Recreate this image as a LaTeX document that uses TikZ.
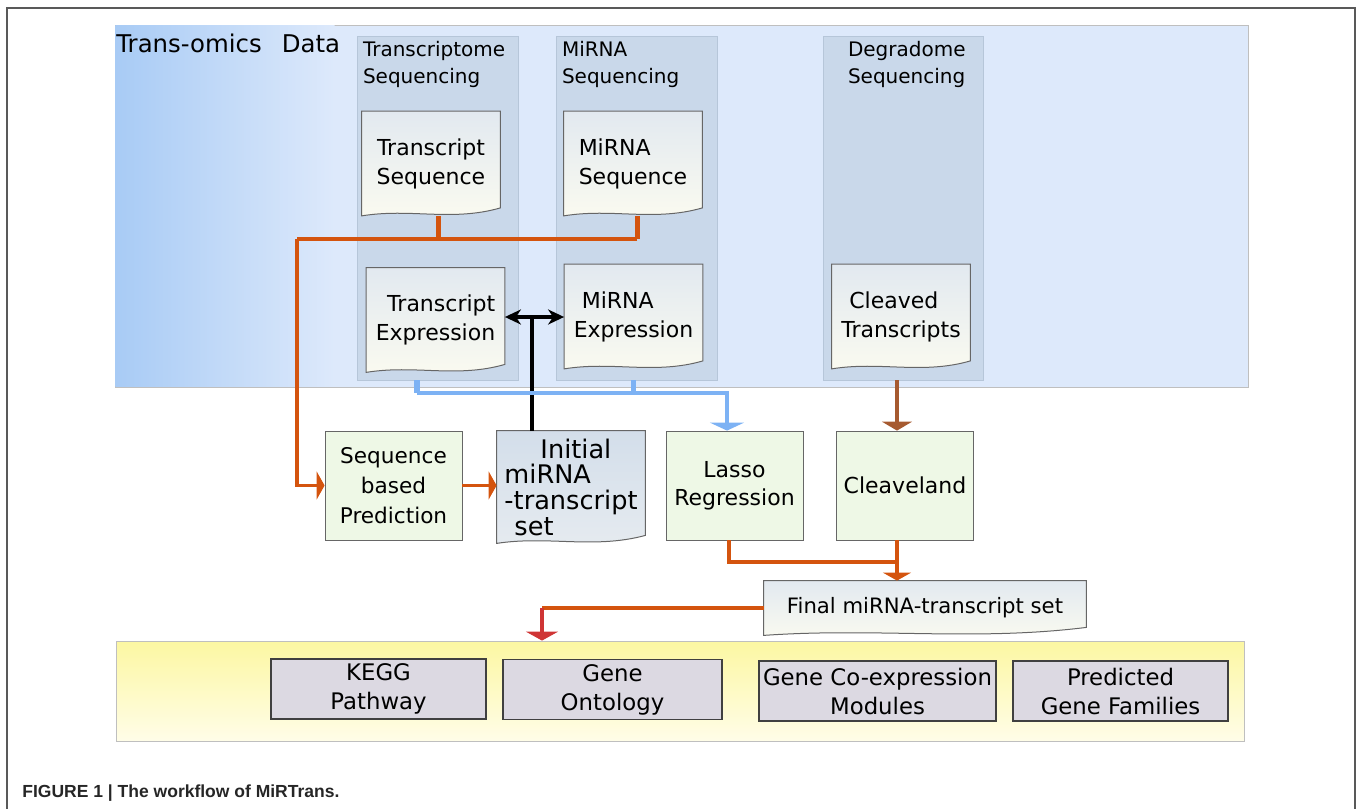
\documentclass[tikz,border=0pt]{standalone}
\usepackage{fontspec}
\setmainfont{DejaVu Sans}
\newfontfamily\capfont{Liberation Sans}
\usepackage{xcolor}
\usepackage{tikz}
\usetikzlibrary{arrows.meta, positioning, calc}

\definecolor{omicsblue}{HTML}{DDE9FB}
\definecolor{omicsleft}{HTML}{A8CBF5}
\definecolor{lanefill}{HTML}{C9D8EA}
\definecolor{laneedge}{HTML}{B6C6D9}
\definecolor{doctop}{HTML}{E2E9F0}
\definecolor{docbot}{HTML}{FBFBF0}
\definecolor{initop}{HTML}{D3DEEA}
\definecolor{inibot}{HTML}{E6EBF0}
\definecolor{procfill}{HTML}{EEF8E6}
\definecolor{resfill}{HTML}{DCD9E2}
\definecolor{yeltop}{HTML}{FCF7A2}
\definecolor{yelbot}{HTML}{FFFDE8}
\definecolor{flowor}{HTML}{D4540E}
\definecolor{flowblue}{HTML}{7DB2F4}
\definecolor{flowbrown}{HTML}{A65A30}
\definecolor{flowred}{HTML}{CF3535}

\pgfdeclarelayer{panels}
\pgfdeclarelayer{docs}
\pgfsetlayers{panels,docs,main}

% document outline with a wavy lower edge, around a named node
\newcommand{\docoutline}[2]{%
  \path[#1] (#2.north west) -- (#2.north east) -- ([yshift=4pt]#2.south east)
    .. controls ($(#2.south east)!0.35!(#2.south west)+(0pt,-3pt)$)
       and ($(#2.south east)!0.65!(#2.south west)+(0pt,4pt)$) .. (#2.south west) -- cycle;}

\begin{document}
\begin{tikzpicture}[
    x=0.5pt, y=-0.5pt,
    every node/.style={font=\fontsize{11}{14.5}\selectfont},
    panel/.style={draw=black!25, inner sep=0pt},
    lane/.style={fill=lanefill, draw=laneedge, inner sep=0pt, minimum width=80.5pt, minimum height=172pt},
    lanetitle/.style={anchor=north west, inner sep=0pt, align=left, font=\fontsize{10}{13.5}\selectfont},
    doc/.style={inner sep=0pt, minimum width=69pt, minimum height=52pt},
    docfill/.style={draw=black!60, line width=0.5pt, top color=doctop, bottom color=docbot},
    inifill/.style={draw=black!60, line width=0.5pt, top color=initop, bottom color=inibot},
    process/.style={draw=black!60, fill=procfill, inner sep=0pt, minimum width=68.5pt, minimum height=54.5pt,
        align=center, font=\fontsize{10.8}{15}\selectfont},
    result/.style={draw=black!75, fill=resfill, line width=0.7pt, inner sep=0pt, minimum height=30pt,
        align=center, font=\fontsize{11.4}{14.5}\selectfont},
    oline/.style={draw=flowor, line width=1.6pt},
    ostub/.style={draw=flowor, line width=2.5pt},
    bline/.style={draw=flowblue, line width=2pt},
    bstub/.style={draw=flowblue, line width=2.6pt},
    bkline/.style={draw=black, line width=1.7pt},
    brline/.style={draw=flowbrown, line width=2.2pt},
    rline/.style={draw=flowred, line width=2pt},
    ohead/.tip={Triangle[width=14pt,length=4pt]},
    bhead/.tip={Triangle[width=17pt,length=4pt]},
    brhead/.tip={Triangle[width=15pt,length=4.5pt]},
    rhead/.tip={Triangle[width=16pt,length=4.5pt]},
    bkhead/.tip={Stealth[width=7.5pt,length=8pt,inset=2.5pt]}
]
\useasboundingbox (0,0) rectangle (1358,808);

% outer frame
\draw[black!65, line width=0.9pt] (7,812) -- (7,8) -- (1355,8) -- (1355,812);

% data panel and sequencing lanes
\begin{pgfonlayer}{panels}
\node[panel, fill=omicsblue, minimum width=566.5pt, minimum height=181pt] (omics) at (681.5,206) {};
\shade[left color=omicsleft, right color=omicsblue]
    ([shift={(0.4pt,0.4pt)}]omics.south west) rectangle ([shift={(110pt,-0.4pt)}]omics.north west);
\node[lane] (lane1) at (437.5,208) {};
\node[lane] (lane2) at (636.5,208) {};
\node[lane, minimum width=80pt] (lane3) at (903,208) {};
\node[panel, top color=yeltop, bottom color=yelbot, minimum width=564pt, minimum height=50pt]
    (results) at (680,691) {};
\end{pgfonlayer}

\node[anchor=base west, inner sep=0pt, font=\fontsize{12.2}{14}\selectfont] (omicstitle) at (116,53)
    {Trans-omics\hspace{10pt}Data};
\node[lanetitle] (lab1) at ([xshift=3pt,yshift=-2.5pt]lane1.north west) {Transcriptome\\Sequencing};
\node[lanetitle] (lab2) at ([xshift=3pt,yshift=-2.5pt]lane2.north west) {MiRNA\\Sequencing};
\node[lanetitle] (lab3) at ([xshift=12.5pt,yshift=-2.5pt]lane3.north west) {Degradome\\Sequencing};

% data files
\node[doc, align=center] (tseq) at (431,163.5) {Transcript\\Sequence};
\node[doc, align=left] (mseq) at (633,163.5) {MiRNA\\Sequence};
\node[doc, align=right] (texp) at (435.5,320) {Transcript\\Expression};
\node[doc, align=left] (mexp) at (633.5,316.5) {\hspace*{4pt}MiRNA\\Expression};
\node[doc, align=left] (cleav) at (901,316.5) {\hspace*{4pt}Cleaved\\Transcripts};

% analysis steps
\node[process] (seqp) at (393.5,485.5) {Sequence\\based\\Prediction};
\node[doc, minimum width=74pt, minimum height=56pt, align=left, font=\fontsize{12.8}{12.85}\selectfont]
    (initset) at (571,487) {\hspace*{18pt}Initial\\miRNA\\-transcript\\\hspace*{5pt}set};
\node[process, font=\fontsize{11}{14}\selectfont] (lasso) at (734.5,485.5) {Lasso\\Regression};
\node[process, font=\fontsize{11}{14}\selectfont] (cleaveland) at (905,485.5) {Cleaveland};
\node[doc, minimum width=161pt, minimum height=27pt, font=\fontsize{10.6}{13}\selectfont]
    (final) at (925,608) {Final miRNA-transcript set};

% downstream analyses
\node[result, minimum width=107.5pt] (kegg) at (378.5,689) {KEGG\\Pathway};
\node[result, minimum width=109.5pt] (gontology) at (612.5,689.5) {Gene\\Ontology};
\node[result, minimum width=118.5pt] (coexp) at (877.5,691) {Gene Co-expression\\Modules};
\node[result, minimum width=107.5pt] (families) at (1120.5,691) {Predicted\\Gene Families};

\begin{pgfonlayer}{docs}
\docoutline{docfill}{tseq}
\docoutline{docfill}{mseq}
\docoutline{docfill}{texp}
\docoutline{docfill}{mexp}
\docoutline{docfill}{cleav}
\docoutline{inifill}{initset}
\docoutline{docfill}{final}
\end{pgfonlayer}

\coordinate (ojoin) at (297,239);
\coordinate (bjoin) at (532,317);
\coordinate (bluejoin) at (417,393);
\coordinate (fjoin) at (897,562);
\coordinate (rjoin) at (542,607);

% sequences -> prediction
\draw[ostub] ([xshift=3.5pt]tseq.south) -- ([xshift=3.5pt]tseq.south |- ojoin);
\draw[ostub] ([xshift=2pt]mseq.south) -- ([xshift=2pt]mseq.south |- ojoin);
\draw[oline] ([xshift=2pt]mseq.south |- ojoin) -- (ojoin);
\draw[oline, -{ohead}] (ojoin) |- (seqp.west);
\draw[oline, -{ohead}] (seqp.east) -- (seqp.east -| initset.west);

% expression -> set
\draw[bkline, {bkhead}-{bkhead}] (texp.east |- bjoin) -- (mexp.west |- bjoin);
\draw[bkline] (bjoin |- initset.north) -- (bjoin);

% expression -> lasso
\draw[bstub] (bluejoin |- lane1.south) -- (bluejoin);
\draw[bstub] (mexp.south |- lane2.south) -- (mexp.south |- bluejoin);
\draw[bline, -{bhead}] (bluejoin) -| ([xshift=-3.75pt]lasso.north);

% degradome -> cleaveland
\draw[brline, -{brhead}] ([xshift=-3pt]lane3.south) -- ([xshift=-3pt]lane3.south |- cleaveland.north);

% merge into final set
\draw[oline] ([xshift=-2.75pt]lasso.south) |- (fjoin);
\draw[oline, -{ohead}] (fjoin |- cleaveland.south) -- (fjoin |- final.north);
\draw[oline] (final.west) -- (final.west -| rjoin);
\draw[rline, -{rhead}] (final.west -| rjoin) -- (rjoin |- results.north);

\node[anchor=base west, inner sep=0pt, text=black!85, font=\capfont\bfseries\fontsize{8.75}{10}\selectfont]
    (caption) at (22,797) {FIGURE 1 | The workflow of MiRTrans.};

\end{tikzpicture}
\end{document}
